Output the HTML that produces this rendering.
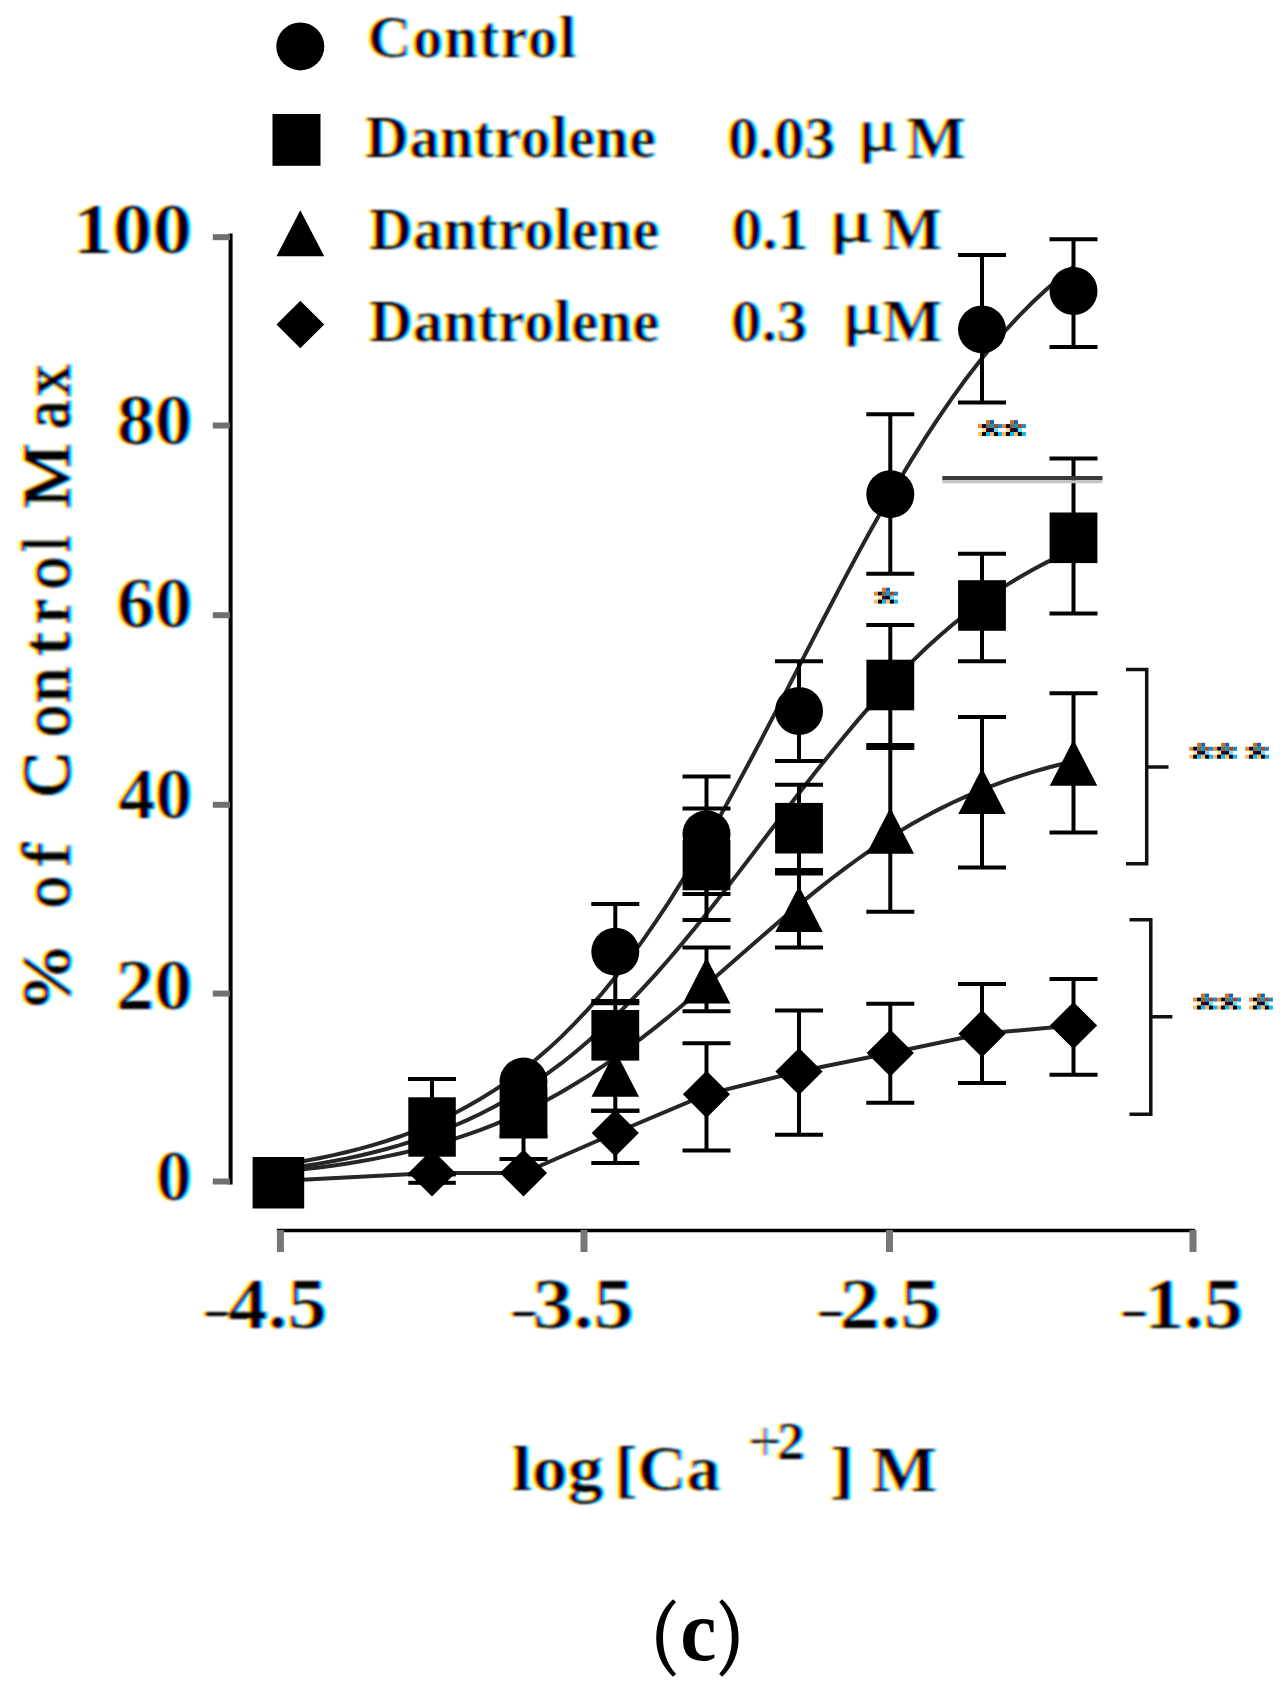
<!DOCTYPE html>
<html><head><meta charset="utf-8"><style>
html,body{margin:0;padding:0;background:#fff;}
svg{display:block;}
svg{font-family:"Liberation Serif",serif;font-weight:bold;}
</style></head><body>
<svg width="1282" height="1691" viewBox="0 0 1282 1691">
<defs><filter id="bl" x="0" y="0" width="1282" height="1691" filterUnits="userSpaceOnUse"><feGaussianBlur stdDeviation="0.8"/></filter></defs>
<rect width="1282" height="1691" fill="#fff"/>
<circle cx="300.3" cy="46.4" r="24"/>
<rect x="272.5" y="114" width="48" height="51.8"/>
<polygon points="300.3,210.2 324.2,256.2 276.5,256.2"/>
<polygon points="300.3,300.8 324.2,324.5 300.3,348.2 276.5,324.5"/>
<line x1="230.6" y1="233.6" x2="230.6" y2="1184.5" stroke="#000" stroke-width="4"/>
<g stroke="#707070" stroke-width="6"><line x1="212.8" y1="237.2" x2="230" y2="237.2"/><line x1="212.8" y1="425.5" x2="230" y2="425.5"/><line x1="212.8" y1="615.2" x2="230" y2="615.2"/><line x1="212.8" y1="804.8" x2="230" y2="804.8"/><line x1="212.8" y1="993.6" x2="230" y2="993.6"/><line x1="212.8" y1="1181.5" x2="230" y2="1181.5"/></g>
<line x1="276.9" y1="1230.5" x2="1195" y2="1230.5" stroke="#000" stroke-width="3.6"/>
<g stroke="#777" stroke-width="7"><line x1="280.4" y1="1230" x2="280.4" y2="1252"/><line x1="584" y1="1230" x2="584" y2="1252"/><line x1="889.5" y1="1230" x2="889.5" y2="1252"/><line x1="1193" y1="1230" x2="1193" y2="1252"/></g>
<path d="M278.5,1165.2 L292.0,1163.1 L305.4,1160.8 L318.9,1158.2 L332.4,1155.4 L345.9,1152.3 L359.3,1148.9 L372.8,1145.1 L386.3,1141.0 L399.8,1136.5 L413.2,1131.5 L426.7,1126.1 L440.2,1120.2 L453.7,1113.7 L467.1,1106.6 L480.6,1098.8 L494.1,1090.4 L507.6,1081.3 L521.0,1071.4 L534.5,1060.7 L548.0,1049.1 L561.5,1036.6 L574.9,1023.2 L588.4,1008.8 L601.9,993.5 L615.4,977.1 L628.8,959.6 L642.3,941.2 L655.8,921.7 L669.3,901.3 L682.7,879.9 L696.2,857.6 L709.7,834.4 L723.2,810.5 L736.6,785.9 L750.1,760.7 L763.6,735.1 L777.1,709.1 L790.5,682.9 L804.0,656.7 L817.5,630.5 L831.0,604.5 L844.4,578.8 L857.9,553.6 L871.4,529.0 L884.9,505.0 L898.3,481.7 L911.8,459.4 L925.3,437.9 L938.8,417.3 L952.2,397.8 L965.7,379.3 L979.2,361.8 L992.7,345.3 L1006.1,329.8 L1019.6,315.3 L1033.1,301.8 L1046.6,289.3 L1060.0,277.6 L1073.5,266.8" fill="none" stroke="#262626" stroke-width="4"/>
<path d="M278.5,1169.6 L292.0,1167.8 L305.4,1165.8 L318.9,1163.6 L332.4,1161.2 L345.9,1158.6 L359.3,1155.7 L372.8,1152.5 L386.3,1149.0 L399.8,1145.2 L413.2,1141.0 L426.7,1136.4 L440.2,1131.5 L453.7,1126.0 L467.1,1120.1 L480.6,1113.7 L494.1,1106.8 L507.6,1099.3 L521.0,1091.2 L534.5,1082.5 L548.0,1073.2 L561.5,1063.2 L574.9,1052.5 L588.4,1041.1 L601.9,1029.1 L615.4,1016.3 L628.8,1002.9 L642.3,988.8 L655.8,974.1 L669.3,958.7 L682.7,942.9 L696.2,926.5 L709.7,909.7 L723.2,892.5 L736.6,875.1 L750.1,857.5 L763.6,839.7 L777.1,822.0 L790.5,804.3 L804.0,786.8 L817.5,769.6 L831.0,752.7 L844.4,736.2 L857.9,720.1 L871.4,704.6 L884.9,689.7 L898.3,675.4 L911.8,661.8 L925.3,648.8 L938.8,636.6 L952.2,625.0 L965.7,614.1 L979.2,603.9 L992.7,594.3 L1006.1,585.4 L1019.6,577.2 L1033.1,569.5 L1046.6,562.4 L1060.0,555.9 L1073.5,549.8" fill="none" stroke="#262626" stroke-width="4"/>
<path d="M278.5,1172.0 L292.0,1170.6 L305.4,1169.1 L318.9,1167.5 L332.4,1165.7 L345.9,1163.7 L359.3,1161.5 L372.8,1159.1 L386.3,1156.4 L399.8,1153.5 L413.2,1150.4 L426.7,1146.9 L440.2,1143.2 L453.7,1139.1 L467.1,1134.6 L480.6,1129.8 L494.1,1124.6 L507.6,1118.9 L521.0,1112.9 L534.5,1106.3 L548.0,1099.4 L561.5,1091.9 L574.9,1084.0 L588.4,1075.6 L601.9,1066.8 L615.4,1057.5 L628.8,1047.7 L642.3,1037.6 L655.8,1027.1 L669.3,1016.2 L682.7,1005.0 L696.2,993.6 L709.7,982.0 L723.2,970.3 L736.6,958.5 L750.1,946.7 L763.6,934.9 L777.1,923.3 L790.5,911.8 L804.0,900.6 L817.5,889.6 L831.0,879.0 L844.4,868.8 L857.9,859.0 L871.4,849.5 L884.9,840.6 L898.3,832.1 L911.8,824.1 L925.3,816.5 L938.8,809.4 L952.2,802.8 L965.7,796.6 L979.2,790.9 L992.7,785.5 L1006.1,780.6 L1019.6,776.1 L1033.1,771.9 L1046.6,768.0 L1060.0,764.5 L1073.5,761.3" fill="none" stroke="#262626" stroke-width="4"/>
<path d="M278.5,1181.0 L432.0,1173.0 L523.5,1173.0 L615.3,1133.0 L706.5,1094.3 L799.0,1071.5 L890.3,1053.0 L982.0,1033.7 L1073.5,1025.5" fill="none" stroke="#262626" stroke-width="4"/>
<line x1="615.3" y1="904" x2="615.3" y2="1001" stroke="#000" stroke-width="4"/><line x1="591.3" y1="904" x2="639.3" y2="904" stroke="#000" stroke-width="4"/><line x1="591.3" y1="1001" x2="639.3" y2="1001" stroke="#000" stroke-width="4"/>
<line x1="706.5" y1="776.6" x2="706.5" y2="894" stroke="#000" stroke-width="4"/><line x1="682.5" y1="776.6" x2="730.5" y2="776.6" stroke="#000" stroke-width="4"/><line x1="682.5" y1="894" x2="730.5" y2="894" stroke="#000" stroke-width="4"/>
<line x1="799" y1="661.2" x2="799" y2="761" stroke="#000" stroke-width="4"/><line x1="775" y1="661.2" x2="823" y2="661.2" stroke="#000" stroke-width="4"/><line x1="775" y1="761" x2="823" y2="761" stroke="#000" stroke-width="4"/>
<line x1="890.3" y1="414.2" x2="890.3" y2="573.8" stroke="#000" stroke-width="4"/><line x1="866.3" y1="414.2" x2="914.3" y2="414.2" stroke="#000" stroke-width="4"/><line x1="866.3" y1="573.8" x2="914.3" y2="573.8" stroke="#000" stroke-width="4"/>
<line x1="982" y1="255.1" x2="982" y2="402.5" stroke="#000" stroke-width="4"/><line x1="958" y1="255.1" x2="1006" y2="255.1" stroke="#000" stroke-width="4"/><line x1="958" y1="402.5" x2="1006" y2="402.5" stroke="#000" stroke-width="4"/>
<line x1="1073.5" y1="239.2" x2="1073.5" y2="347" stroke="#000" stroke-width="4"/><line x1="1049.5" y1="239.2" x2="1097.5" y2="239.2" stroke="#000" stroke-width="4"/><line x1="1049.5" y1="347" x2="1097.5" y2="347" stroke="#000" stroke-width="4"/>
<line x1="615.3" y1="1003.3" x2="615.3" y2="1040" stroke="#000" stroke-width="4"/><line x1="591.3" y1="1003.3" x2="639.3" y2="1003.3" stroke="#000" stroke-width="4"/><line x1="591.3" y1="1040" x2="639.3" y2="1040" stroke="#000" stroke-width="4"/>
<line x1="706.5" y1="808.4" x2="706.5" y2="920" stroke="#000" stroke-width="4"/><line x1="682.5" y1="808.4" x2="730.5" y2="808.4" stroke="#000" stroke-width="4"/><line x1="682.5" y1="920" x2="730.5" y2="920" stroke="#000" stroke-width="4"/>
<line x1="799" y1="784.7" x2="799" y2="870" stroke="#000" stroke-width="4"/><line x1="775" y1="784.7" x2="823" y2="784.7" stroke="#000" stroke-width="4"/><line x1="775" y1="870" x2="823" y2="870" stroke="#000" stroke-width="4"/>
<line x1="890.3" y1="625.1" x2="890.3" y2="745" stroke="#000" stroke-width="4"/><line x1="866.3" y1="625.1" x2="914.3" y2="625.1" stroke="#000" stroke-width="4"/><line x1="866.3" y1="745" x2="914.3" y2="745" stroke="#000" stroke-width="4"/>
<line x1="982" y1="553.7" x2="982" y2="661.2" stroke="#000" stroke-width="4"/><line x1="958" y1="553.7" x2="1006" y2="553.7" stroke="#000" stroke-width="4"/><line x1="958" y1="661.2" x2="1006" y2="661.2" stroke="#000" stroke-width="4"/>
<line x1="1073.5" y1="458.4" x2="1073.5" y2="613.4" stroke="#000" stroke-width="4"/><line x1="1049.5" y1="458.4" x2="1097.5" y2="458.4" stroke="#000" stroke-width="4"/><line x1="1049.5" y1="613.4" x2="1097.5" y2="613.4" stroke="#000" stroke-width="4"/>
<line x1="615.3" y1="1037" x2="615.3" y2="1110.7" stroke="#000" stroke-width="4"/><line x1="591.3" y1="1037" x2="639.3" y2="1037" stroke="#000" stroke-width="4"/><line x1="591.3" y1="1110.7" x2="639.3" y2="1110.7" stroke="#000" stroke-width="4"/>
<line x1="706.5" y1="947.4" x2="706.5" y2="1011.3" stroke="#000" stroke-width="4"/><line x1="682.5" y1="947.4" x2="730.5" y2="947.4" stroke="#000" stroke-width="4"/><line x1="682.5" y1="1011.3" x2="730.5" y2="1011.3" stroke="#000" stroke-width="4"/>
<line x1="799" y1="873.5" x2="799" y2="947.5" stroke="#000" stroke-width="4"/><line x1="775" y1="873.5" x2="823" y2="873.5" stroke="#000" stroke-width="4"/><line x1="775" y1="947.5" x2="823" y2="947.5" stroke="#000" stroke-width="4"/>
<line x1="890.3" y1="748" x2="890.3" y2="911.8" stroke="#000" stroke-width="4"/><line x1="866.3" y1="748" x2="914.3" y2="748" stroke="#000" stroke-width="4"/><line x1="866.3" y1="911.8" x2="914.3" y2="911.8" stroke="#000" stroke-width="4"/>
<line x1="982" y1="716.9" x2="982" y2="867.6" stroke="#000" stroke-width="4"/><line x1="958" y1="716.9" x2="1006" y2="716.9" stroke="#000" stroke-width="4"/><line x1="958" y1="867.6" x2="1006" y2="867.6" stroke="#000" stroke-width="4"/>
<line x1="1073.5" y1="693.2" x2="1073.5" y2="832.5" stroke="#000" stroke-width="4"/><line x1="1049.5" y1="693.2" x2="1097.5" y2="693.2" stroke="#000" stroke-width="4"/><line x1="1049.5" y1="832.5" x2="1097.5" y2="832.5" stroke="#000" stroke-width="4"/>
<line x1="523.5" y1="1136.6" x2="523.5" y2="1159" stroke="#000" stroke-width="4"/><line x1="499.5" y1="1136.6" x2="547.5" y2="1136.6" stroke="#000" stroke-width="4"/><line x1="499.5" y1="1159" x2="547.5" y2="1159" stroke="#000" stroke-width="4"/>
<line x1="615.3" y1="1110.7" x2="615.3" y2="1163" stroke="#000" stroke-width="4"/><line x1="591.3" y1="1110.7" x2="639.3" y2="1110.7" stroke="#000" stroke-width="4"/><line x1="591.3" y1="1163" x2="639.3" y2="1163" stroke="#000" stroke-width="4"/>
<line x1="706.5" y1="1043.2" x2="706.5" y2="1150.6" stroke="#000" stroke-width="4"/><line x1="682.5" y1="1043.2" x2="730.5" y2="1043.2" stroke="#000" stroke-width="4"/><line x1="682.5" y1="1150.6" x2="730.5" y2="1150.6" stroke="#000" stroke-width="4"/>
<line x1="799" y1="1010.5" x2="799" y2="1134.7" stroke="#000" stroke-width="4"/><line x1="775" y1="1010.5" x2="823" y2="1010.5" stroke="#000" stroke-width="4"/><line x1="775" y1="1134.7" x2="823" y2="1134.7" stroke="#000" stroke-width="4"/>
<line x1="890.3" y1="1003.7" x2="890.3" y2="1102.8" stroke="#000" stroke-width="4"/><line x1="866.3" y1="1003.7" x2="914.3" y2="1003.7" stroke="#000" stroke-width="4"/><line x1="866.3" y1="1102.8" x2="914.3" y2="1102.8" stroke="#000" stroke-width="4"/>
<line x1="982" y1="984" x2="982" y2="1082.9" stroke="#000" stroke-width="4"/><line x1="958" y1="984" x2="1006" y2="984" stroke="#000" stroke-width="4"/><line x1="958" y1="1082.9" x2="1006" y2="1082.9" stroke="#000" stroke-width="4"/>
<line x1="1073.5" y1="979.1" x2="1073.5" y2="1074.7" stroke="#000" stroke-width="4"/><line x1="1049.5" y1="979.1" x2="1097.5" y2="979.1" stroke="#000" stroke-width="4"/><line x1="1049.5" y1="1074.7" x2="1097.5" y2="1074.7" stroke="#000" stroke-width="4"/>
<line x1="432" y1="1079" x2="432" y2="1100" stroke="#000" stroke-width="4"/><line x1="408" y1="1079" x2="456" y2="1079" stroke="#000" stroke-width="4"/>
<rect x="408.3" y="1172.4" width="47.5" height="4"/><rect x="408.3" y="1180.8" width="47.5" height="4"/>
<polygon points="523.5,1149.4 547.1,1173 523.5,1196.6 499.9,1173"/>
<polygon points="615.3,1109.4 638.9,1133 615.3,1156.6 591.6999999999999,1133"/>
<polygon points="706.5,1070.7 730.1,1094.3 706.5,1117.8999999999999 682.9,1094.3"/>
<polygon points="799,1047.9 822.6,1071.5 799,1095.1 775.4,1071.5"/>
<polygon points="890.3,1029.4 913.9,1053 890.3,1076.6 866.6999999999999,1053"/>
<polygon points="982,1010.1 1005.6,1033.7 982,1057.3 958.4,1033.7"/>
<polygon points="1073.5,1001.9 1097.1,1025.5 1073.5,1049.1 1049.9,1025.5"/>
<polygon points="432,1149.4 455.6,1173 432,1196.6 408.4,1173"/>
<polygon points="523.5,1090.6 547.25,1136.6 499.75,1136.6"/>
<polygon points="615.3,1050.8 639.05,1096.8 591.55,1096.8"/>
<polygon points="706.5,957.6 730.25,1003.6 682.75,1003.6"/>
<polygon points="799,886.0 822.75,932.0 775.25,932.0"/>
<polygon points="890.3,807.8 914.05,853.8 866.55,853.8"/>
<polygon points="982,768.0 1005.75,814.0 958.25,814.0"/>
<polygon points="1073.5,739.8 1097.25,785.8 1049.75,785.8"/>
<circle cx="523.5" cy="1081.6" r="24"/>
<circle cx="615.3" cy="951.7" r="24"/>
<circle cx="706.5" cy="834.3" r="24"/>
<circle cx="799" cy="711" r="24"/>
<circle cx="890.3" cy="494.2" r="24"/>
<circle cx="982" cy="329.4" r="24"/>
<circle cx="1073.5" cy="291" r="24"/>
<rect x="499.60" y="1086.30" width="47.8" height="50.6"/>
<rect x="591.40" y="1010.00" width="47.8" height="50.6"/>
<rect x="682.60" y="839.70" width="47.8" height="50.6"/>
<rect x="775.10" y="802.90" width="47.8" height="50.6"/>
<rect x="866.40" y="659.70" width="47.8" height="50.6"/>
<rect x="958.10" y="580.20" width="47.8" height="50.6"/>
<rect x="1049.60" y="512.50" width="47.8" height="50.6"/>
<rect x="408.3" y="1097.3" width="47.5" height="59.4"/>
<rect x="252.6" y="1157" width="51.6" height="51.5"/>
<line x1="942.3" y1="478.1" x2="1102.5" y2="478.1" stroke="#3a3a3a" stroke-width="4.2"/><line x1="942.3" y1="481.7" x2="1102.5" y2="481.7" stroke="#c4c4c4" stroke-width="3"/>
<path d="M1126,669.5 H1146.7 V863.7 H1126 M1146.7,767 H1168.5" fill="none" stroke="#111" stroke-width="3.5"/>
<path d="M1129.5,919.8 H1150.8 V1114.2 H1129.5 M1150.8,1016.7 H1172.4" fill="none" stroke="#111" stroke-width="3.5"/>
<rect x="986.04" y="420.10" width="4.02" height="4.02" fill="#d87010"/><rect x="990.01" y="420.10" width="4.02" height="4.02" fill="#1060c8"/><rect x="978.10" y="424.07" width="4.02" height="4.02" fill="#f08820"/><rect x="982.07" y="424.07" width="4.02" height="4.02" fill="#000040"/><rect x="986.04" y="424.07" width="4.02" height="4.02" fill="#707040"/><rect x="990.01" y="424.07" width="4.02" height="4.02" fill="#1098c0"/><rect x="993.98" y="424.07" width="4.02" height="4.02" fill="#b84000"/><rect x="997.95" y="424.07" width="4.02" height="4.02" fill="#1088e0"/><rect x="982.07" y="428.04" width="4.02" height="4.02" fill="#ffe090"/><rect x="986.04" y="428.04" width="4.02" height="4.02" fill="#400000"/><rect x="990.01" y="428.04" width="4.02" height="4.02" fill="#000040"/><rect x="993.98" y="428.04" width="4.02" height="4.02" fill="#60e0ff"/><rect x="978.10" y="432.01" width="4.02" height="4.02" fill="#ffb860"/><rect x="982.07" y="432.01" width="4.02" height="4.02" fill="#000000"/><rect x="986.04" y="432.01" width="4.02" height="4.02" fill="#00b8ff"/><rect x="990.01" y="432.01" width="4.02" height="4.02" fill="#ffb860"/><rect x="993.98" y="432.01" width="4.02" height="4.02" fill="#000000"/><rect x="997.95" y="432.01" width="4.02" height="4.02" fill="#00b8ff"/><rect x="1009.94" y="420.10" width="4.02" height="4.02" fill="#d87010"/><rect x="1013.91" y="420.10" width="4.02" height="4.02" fill="#1060c8"/><rect x="1002.00" y="424.07" width="4.02" height="4.02" fill="#f08820"/><rect x="1005.97" y="424.07" width="4.02" height="4.02" fill="#000040"/><rect x="1009.94" y="424.07" width="4.02" height="4.02" fill="#707040"/><rect x="1013.91" y="424.07" width="4.02" height="4.02" fill="#1098c0"/><rect x="1017.88" y="424.07" width="4.02" height="4.02" fill="#b84000"/><rect x="1021.85" y="424.07" width="4.02" height="4.02" fill="#1088e0"/><rect x="1005.97" y="428.04" width="4.02" height="4.02" fill="#ffe090"/><rect x="1009.94" y="428.04" width="4.02" height="4.02" fill="#400000"/><rect x="1013.91" y="428.04" width="4.02" height="4.02" fill="#000040"/><rect x="1017.88" y="428.04" width="4.02" height="4.02" fill="#60e0ff"/><rect x="1002.00" y="432.01" width="4.02" height="4.02" fill="#ffb860"/><rect x="1005.97" y="432.01" width="4.02" height="4.02" fill="#000000"/><rect x="1009.94" y="432.01" width="4.02" height="4.02" fill="#00b8ff"/><rect x="1013.91" y="432.01" width="4.02" height="4.02" fill="#ffb860"/><rect x="1017.88" y="432.01" width="4.02" height="4.02" fill="#000000"/><rect x="1021.85" y="432.01" width="4.02" height="4.02" fill="#00b8ff"/><rect x="882.04" y="587.70" width="4.02" height="4.02" fill="#d87010"/><rect x="886.01" y="587.70" width="4.02" height="4.02" fill="#1060c8"/><rect x="874.10" y="591.67" width="4.02" height="4.02" fill="#f08820"/><rect x="878.07" y="591.67" width="4.02" height="4.02" fill="#000040"/><rect x="882.04" y="591.67" width="4.02" height="4.02" fill="#707040"/><rect x="886.01" y="591.67" width="4.02" height="4.02" fill="#1098c0"/><rect x="889.98" y="591.67" width="4.02" height="4.02" fill="#b84000"/><rect x="893.95" y="591.67" width="4.02" height="4.02" fill="#1088e0"/><rect x="878.07" y="595.64" width="4.02" height="4.02" fill="#ffe090"/><rect x="882.04" y="595.64" width="4.02" height="4.02" fill="#400000"/><rect x="886.01" y="595.64" width="4.02" height="4.02" fill="#000040"/><rect x="889.98" y="595.64" width="4.02" height="4.02" fill="#60e0ff"/><rect x="874.10" y="599.61" width="4.02" height="4.02" fill="#ffb860"/><rect x="878.07" y="599.61" width="4.02" height="4.02" fill="#000000"/><rect x="882.04" y="599.61" width="4.02" height="4.02" fill="#00b8ff"/><rect x="886.01" y="599.61" width="4.02" height="4.02" fill="#ffb860"/><rect x="889.98" y="599.61" width="4.02" height="4.02" fill="#000000"/><rect x="893.95" y="599.61" width="4.02" height="4.02" fill="#00b8ff"/><rect x="1197.14" y="742.80" width="4.02" height="4.02" fill="#d87010"/><rect x="1201.11" y="742.80" width="4.02" height="4.02" fill="#1060c8"/><rect x="1189.20" y="746.77" width="4.02" height="4.02" fill="#f08820"/><rect x="1193.17" y="746.77" width="4.02" height="4.02" fill="#000040"/><rect x="1197.14" y="746.77" width="4.02" height="4.02" fill="#707040"/><rect x="1201.11" y="746.77" width="4.02" height="4.02" fill="#1098c0"/><rect x="1205.08" y="746.77" width="4.02" height="4.02" fill="#b84000"/><rect x="1209.05" y="746.77" width="4.02" height="4.02" fill="#1088e0"/><rect x="1193.17" y="750.74" width="4.02" height="4.02" fill="#ffe090"/><rect x="1197.14" y="750.74" width="4.02" height="4.02" fill="#400000"/><rect x="1201.11" y="750.74" width="4.02" height="4.02" fill="#000040"/><rect x="1205.08" y="750.74" width="4.02" height="4.02" fill="#60e0ff"/><rect x="1189.20" y="754.71" width="4.02" height="4.02" fill="#ffb860"/><rect x="1193.17" y="754.71" width="4.02" height="4.02" fill="#000000"/><rect x="1197.14" y="754.71" width="4.02" height="4.02" fill="#00b8ff"/><rect x="1201.11" y="754.71" width="4.02" height="4.02" fill="#ffb860"/><rect x="1205.08" y="754.71" width="4.02" height="4.02" fill="#000000"/><rect x="1209.05" y="754.71" width="4.02" height="4.02" fill="#00b8ff"/><rect x="1221.14" y="742.80" width="4.02" height="4.02" fill="#d87010"/><rect x="1225.11" y="742.80" width="4.02" height="4.02" fill="#1060c8"/><rect x="1213.20" y="746.77" width="4.02" height="4.02" fill="#f08820"/><rect x="1217.17" y="746.77" width="4.02" height="4.02" fill="#000040"/><rect x="1221.14" y="746.77" width="4.02" height="4.02" fill="#707040"/><rect x="1225.11" y="746.77" width="4.02" height="4.02" fill="#1098c0"/><rect x="1229.08" y="746.77" width="4.02" height="4.02" fill="#b84000"/><rect x="1233.05" y="746.77" width="4.02" height="4.02" fill="#1088e0"/><rect x="1217.17" y="750.74" width="4.02" height="4.02" fill="#ffe090"/><rect x="1221.14" y="750.74" width="4.02" height="4.02" fill="#400000"/><rect x="1225.11" y="750.74" width="4.02" height="4.02" fill="#000040"/><rect x="1229.08" y="750.74" width="4.02" height="4.02" fill="#60e0ff"/><rect x="1213.20" y="754.71" width="4.02" height="4.02" fill="#ffb860"/><rect x="1217.17" y="754.71" width="4.02" height="4.02" fill="#000000"/><rect x="1221.14" y="754.71" width="4.02" height="4.02" fill="#00b8ff"/><rect x="1225.11" y="754.71" width="4.02" height="4.02" fill="#ffb860"/><rect x="1229.08" y="754.71" width="4.02" height="4.02" fill="#000000"/><rect x="1233.05" y="754.71" width="4.02" height="4.02" fill="#00b8ff"/><rect x="1253.04" y="742.80" width="4.02" height="4.02" fill="#d87010"/><rect x="1257.01" y="742.80" width="4.02" height="4.02" fill="#1060c8"/><rect x="1245.10" y="746.77" width="4.02" height="4.02" fill="#f08820"/><rect x="1249.07" y="746.77" width="4.02" height="4.02" fill="#000040"/><rect x="1253.04" y="746.77" width="4.02" height="4.02" fill="#707040"/><rect x="1257.01" y="746.77" width="4.02" height="4.02" fill="#1098c0"/><rect x="1260.98" y="746.77" width="4.02" height="4.02" fill="#b84000"/><rect x="1264.95" y="746.77" width="4.02" height="4.02" fill="#1088e0"/><rect x="1249.07" y="750.74" width="4.02" height="4.02" fill="#ffe090"/><rect x="1253.04" y="750.74" width="4.02" height="4.02" fill="#400000"/><rect x="1257.01" y="750.74" width="4.02" height="4.02" fill="#000040"/><rect x="1260.98" y="750.74" width="4.02" height="4.02" fill="#60e0ff"/><rect x="1245.10" y="754.71" width="4.02" height="4.02" fill="#ffb860"/><rect x="1249.07" y="754.71" width="4.02" height="4.02" fill="#000000"/><rect x="1253.04" y="754.71" width="4.02" height="4.02" fill="#00b8ff"/><rect x="1257.01" y="754.71" width="4.02" height="4.02" fill="#ffb860"/><rect x="1260.98" y="754.71" width="4.02" height="4.02" fill="#000000"/><rect x="1264.95" y="754.71" width="4.02" height="4.02" fill="#00b8ff"/><rect x="1201.04" y="993.60" width="4.02" height="4.02" fill="#d87010"/><rect x="1205.01" y="993.60" width="4.02" height="4.02" fill="#1060c8"/><rect x="1193.10" y="997.57" width="4.02" height="4.02" fill="#f08820"/><rect x="1197.07" y="997.57" width="4.02" height="4.02" fill="#000040"/><rect x="1201.04" y="997.57" width="4.02" height="4.02" fill="#707040"/><rect x="1205.01" y="997.57" width="4.02" height="4.02" fill="#1098c0"/><rect x="1208.98" y="997.57" width="4.02" height="4.02" fill="#b84000"/><rect x="1212.95" y="997.57" width="4.02" height="4.02" fill="#1088e0"/><rect x="1197.07" y="1001.54" width="4.02" height="4.02" fill="#ffe090"/><rect x="1201.04" y="1001.54" width="4.02" height="4.02" fill="#400000"/><rect x="1205.01" y="1001.54" width="4.02" height="4.02" fill="#000040"/><rect x="1208.98" y="1001.54" width="4.02" height="4.02" fill="#60e0ff"/><rect x="1193.10" y="1005.51" width="4.02" height="4.02" fill="#ffb860"/><rect x="1197.07" y="1005.51" width="4.02" height="4.02" fill="#000000"/><rect x="1201.04" y="1005.51" width="4.02" height="4.02" fill="#00b8ff"/><rect x="1205.01" y="1005.51" width="4.02" height="4.02" fill="#ffb860"/><rect x="1208.98" y="1005.51" width="4.02" height="4.02" fill="#000000"/><rect x="1212.95" y="1005.51" width="4.02" height="4.02" fill="#00b8ff"/><rect x="1225.04" y="993.60" width="4.02" height="4.02" fill="#d87010"/><rect x="1229.01" y="993.60" width="4.02" height="4.02" fill="#1060c8"/><rect x="1217.10" y="997.57" width="4.02" height="4.02" fill="#f08820"/><rect x="1221.07" y="997.57" width="4.02" height="4.02" fill="#000040"/><rect x="1225.04" y="997.57" width="4.02" height="4.02" fill="#707040"/><rect x="1229.01" y="997.57" width="4.02" height="4.02" fill="#1098c0"/><rect x="1232.98" y="997.57" width="4.02" height="4.02" fill="#b84000"/><rect x="1236.95" y="997.57" width="4.02" height="4.02" fill="#1088e0"/><rect x="1221.07" y="1001.54" width="4.02" height="4.02" fill="#ffe090"/><rect x="1225.04" y="1001.54" width="4.02" height="4.02" fill="#400000"/><rect x="1229.01" y="1001.54" width="4.02" height="4.02" fill="#000040"/><rect x="1232.98" y="1001.54" width="4.02" height="4.02" fill="#60e0ff"/><rect x="1217.10" y="1005.51" width="4.02" height="4.02" fill="#ffb860"/><rect x="1221.07" y="1005.51" width="4.02" height="4.02" fill="#000000"/><rect x="1225.04" y="1005.51" width="4.02" height="4.02" fill="#00b8ff"/><rect x="1229.01" y="1005.51" width="4.02" height="4.02" fill="#ffb860"/><rect x="1232.98" y="1005.51" width="4.02" height="4.02" fill="#000000"/><rect x="1236.95" y="1005.51" width="4.02" height="4.02" fill="#00b8ff"/><rect x="1256.94" y="993.60" width="4.02" height="4.02" fill="#d87010"/><rect x="1260.91" y="993.60" width="4.02" height="4.02" fill="#1060c8"/><rect x="1249.00" y="997.57" width="4.02" height="4.02" fill="#f08820"/><rect x="1252.97" y="997.57" width="4.02" height="4.02" fill="#000040"/><rect x="1256.94" y="997.57" width="4.02" height="4.02" fill="#707040"/><rect x="1260.91" y="997.57" width="4.02" height="4.02" fill="#1098c0"/><rect x="1264.88" y="997.57" width="4.02" height="4.02" fill="#b84000"/><rect x="1268.85" y="997.57" width="4.02" height="4.02" fill="#1088e0"/><rect x="1252.97" y="1001.54" width="4.02" height="4.02" fill="#ffe090"/><rect x="1256.94" y="1001.54" width="4.02" height="4.02" fill="#400000"/><rect x="1260.91" y="1001.54" width="4.02" height="4.02" fill="#000040"/><rect x="1264.88" y="1001.54" width="4.02" height="4.02" fill="#60e0ff"/><rect x="1249.00" y="1005.51" width="4.02" height="4.02" fill="#ffb860"/><rect x="1252.97" y="1005.51" width="4.02" height="4.02" fill="#000000"/><rect x="1256.94" y="1005.51" width="4.02" height="4.02" fill="#00b8ff"/><rect x="1260.91" y="1005.51" width="4.02" height="4.02" fill="#ffb860"/><rect x="1264.88" y="1005.51" width="4.02" height="4.02" fill="#000000"/><rect x="1268.85" y="1005.51" width="4.02" height="4.02" fill="#00b8ff"/>
<g filter="url(#bl)" style="isolation:isolate"><g fill="#0ff" stroke="#0ff" stroke-width="0" transform="translate(2.0,0)" style="mix-blend-mode:multiply"><rect x="204.8" y="1312" width="23.5" height="4"/>
<rect x="512" y="1312" width="23.5" height="4"/>
<rect x="818.7" y="1312" width="23.5" height="4"/>
<rect x="1122" y="1312" width="23.5" height="4"/>
<rect x="750.6" y="1439.6" width="27.9" height="3.4"/>
<rect x="763.6" y="1427.8" width="2.6" height="27.3"/>
<text x="367.50" y="57.2" font-size="60" textLength="208.24" lengthAdjust="spacing">Control</text><text x="365.30" y="157.3" font-size="60" textLength="290.31" lengthAdjust="spacing">Dantrolene</text><text x="369.00" y="248.7" font-size="60" textLength="289.98" lengthAdjust="spacing">Dantrolene</text><text x="369.00" y="340.5" font-size="60" textLength="289.98" lengthAdjust="spacing">Dantrolene</text><text x="727.45" y="157.5" font-size="60" textLength="107.60" lengthAdjust="spacingAndGlyphs">0.03</text><text x="731.46" y="248.8" font-size="60" textLength="76.61" lengthAdjust="spacingAndGlyphs">0.1</text><text x="730.97" y="340.5" font-size="60" textLength="76.06" lengthAdjust="spacingAndGlyphs">0.3</text><text x="857.40" y="149.8" font-size="60" font-weight="normal" stroke-width="1.2" textLength="40.21" lengthAdjust="spacingAndGlyphs">μ</text><text x="828.92" y="241.2" font-size="60" font-weight="normal" stroke-width="1.2" textLength="44.05" lengthAdjust="spacingAndGlyphs">μ</text><text x="841.92" y="332.6" font-size="60" font-weight="normal" stroke-width="1.2" textLength="40.83" lengthAdjust="spacingAndGlyphs">μ</text><text x="906.46" y="157.5" font-size="60" textLength="58.74" lengthAdjust="spacingAndGlyphs">M</text><text x="882.45" y="248.6" font-size="60" textLength="59.26" lengthAdjust="spacingAndGlyphs">M</text><text x="882.45" y="340.5" font-size="60" textLength="59.26" lengthAdjust="spacingAndGlyphs">M</text><text x="72.80" y="252.8" font-size="71" textLength="119.00" lengthAdjust="spacingAndGlyphs">100</text><text x="116.88" y="443.7" font-size="71" textLength="75.30" lengthAdjust="spacingAndGlyphs">80</text><text x="116.88" y="626.9" font-size="71" textLength="75.30" lengthAdjust="spacingAndGlyphs">60</text><text x="117.96" y="818.0" font-size="71" textLength="74.18" lengthAdjust="spacingAndGlyphs">40</text><text x="115.77" y="1009.2" font-size="71" textLength="76.46" lengthAdjust="spacingAndGlyphs">20</text><text x="156.00" y="1199.8" font-size="71">0</text><text x="227.78" y="1327.6" font-size="71" textLength="99.19" lengthAdjust="spacingAndGlyphs">4.5</text><text x="532.58" y="1327.6" font-size="71" textLength="101.05" lengthAdjust="spacingAndGlyphs">3.5</text><text x="839.37" y="1327.6" font-size="71" textLength="101.58" lengthAdjust="spacingAndGlyphs">2.5</text><text x="1144.33" y="1327.6" font-size="71" textLength="98.73" lengthAdjust="spacingAndGlyphs">1.5</text><text x="511.87" y="1490.3" font-size="63" textLength="91.22" lengthAdjust="spacingAndGlyphs">log</text><text x="614.62" y="1490.3" font-size="63" textLength="105.44" lengthAdjust="spacingAndGlyphs">[Ca</text><text x="776.89" y="1458.9" font-size="53" textLength="27.95" lengthAdjust="spacingAndGlyphs">2</text><text x="829.64" y="1490.5" font-size="63" textLength="24.73" lengthAdjust="spacingAndGlyphs">]</text><text x="871.40" y="1491" font-size="63" textLength="65.21" lengthAdjust="spacingAndGlyphs">M</text><g transform="translate(69,0) rotate(-90)" font-size="68" font-weight="normal" stroke-width="2.2"><text x="-1006.63" y="0" textLength="58.54" lengthAdjust="spacingAndGlyphs">%</text><text x="-907.73" y="0" textLength="31.17" lengthAdjust="spacingAndGlyphs">o</text><text x="-867.04" y="0" textLength="23.64" lengthAdjust="spacingAndGlyphs">f</text><text x="-796.64" y="0" textLength="43.92" lengthAdjust="spacingAndGlyphs">C</text><text x="-736.43" y="0" textLength="31.05" lengthAdjust="spacingAndGlyphs">o</text><text x="-702.50" y="0" textLength="35.00" lengthAdjust="spacingAndGlyphs">n</text><text x="-654.70" y="0" textLength="21.93" lengthAdjust="spacingAndGlyphs">t</text><text x="-623.00" y="0" textLength="22.75" lengthAdjust="spacingAndGlyphs">r</text><text x="-588.97" y="0" textLength="31.85" lengthAdjust="spacingAndGlyphs">o</text><text x="-551.20" y="0" textLength="14.93" lengthAdjust="spacingAndGlyphs">l</text><text x="-508.26" y="0" textLength="64.36" lengthAdjust="spacingAndGlyphs">M</text><text x="-428.73" y="0" textLength="28.00" lengthAdjust="spacingAndGlyphs">a</text><text x="-396.10" y="0" textLength="31.20" lengthAdjust="spacingAndGlyphs">x</text></g></g><g fill="#f0f" stroke="#f0f" stroke-width="0" style="mix-blend-mode:multiply"><rect x="204.8" y="1312" width="23.5" height="4"/>
<rect x="512" y="1312" width="23.5" height="4"/>
<rect x="818.7" y="1312" width="23.5" height="4"/>
<rect x="1122" y="1312" width="23.5" height="4"/>
<rect x="750.6" y="1439.6" width="27.9" height="3.4"/>
<rect x="763.6" y="1427.8" width="2.6" height="27.3"/>
<text x="367.50" y="57.2" font-size="60" textLength="208.24" lengthAdjust="spacing">Control</text><text x="365.30" y="157.3" font-size="60" textLength="290.31" lengthAdjust="spacing">Dantrolene</text><text x="369.00" y="248.7" font-size="60" textLength="289.98" lengthAdjust="spacing">Dantrolene</text><text x="369.00" y="340.5" font-size="60" textLength="289.98" lengthAdjust="spacing">Dantrolene</text><text x="727.45" y="157.5" font-size="60" textLength="107.60" lengthAdjust="spacingAndGlyphs">0.03</text><text x="731.46" y="248.8" font-size="60" textLength="76.61" lengthAdjust="spacingAndGlyphs">0.1</text><text x="730.97" y="340.5" font-size="60" textLength="76.06" lengthAdjust="spacingAndGlyphs">0.3</text><text x="857.40" y="149.8" font-size="60" font-weight="normal" stroke-width="1.2" textLength="40.21" lengthAdjust="spacingAndGlyphs">μ</text><text x="828.92" y="241.2" font-size="60" font-weight="normal" stroke-width="1.2" textLength="44.05" lengthAdjust="spacingAndGlyphs">μ</text><text x="841.92" y="332.6" font-size="60" font-weight="normal" stroke-width="1.2" textLength="40.83" lengthAdjust="spacingAndGlyphs">μ</text><text x="906.46" y="157.5" font-size="60" textLength="58.74" lengthAdjust="spacingAndGlyphs">M</text><text x="882.45" y="248.6" font-size="60" textLength="59.26" lengthAdjust="spacingAndGlyphs">M</text><text x="882.45" y="340.5" font-size="60" textLength="59.26" lengthAdjust="spacingAndGlyphs">M</text><text x="72.80" y="252.8" font-size="71" textLength="119.00" lengthAdjust="spacingAndGlyphs">100</text><text x="116.88" y="443.7" font-size="71" textLength="75.30" lengthAdjust="spacingAndGlyphs">80</text><text x="116.88" y="626.9" font-size="71" textLength="75.30" lengthAdjust="spacingAndGlyphs">60</text><text x="117.96" y="818.0" font-size="71" textLength="74.18" lengthAdjust="spacingAndGlyphs">40</text><text x="115.77" y="1009.2" font-size="71" textLength="76.46" lengthAdjust="spacingAndGlyphs">20</text><text x="156.00" y="1199.8" font-size="71">0</text><text x="227.78" y="1327.6" font-size="71" textLength="99.19" lengthAdjust="spacingAndGlyphs">4.5</text><text x="532.58" y="1327.6" font-size="71" textLength="101.05" lengthAdjust="spacingAndGlyphs">3.5</text><text x="839.37" y="1327.6" font-size="71" textLength="101.58" lengthAdjust="spacingAndGlyphs">2.5</text><text x="1144.33" y="1327.6" font-size="71" textLength="98.73" lengthAdjust="spacingAndGlyphs">1.5</text><text x="511.87" y="1490.3" font-size="63" textLength="91.22" lengthAdjust="spacingAndGlyphs">log</text><text x="614.62" y="1490.3" font-size="63" textLength="105.44" lengthAdjust="spacingAndGlyphs">[Ca</text><text x="776.89" y="1458.9" font-size="53" textLength="27.95" lengthAdjust="spacingAndGlyphs">2</text><text x="829.64" y="1490.5" font-size="63" textLength="24.73" lengthAdjust="spacingAndGlyphs">]</text><text x="871.40" y="1491" font-size="63" textLength="65.21" lengthAdjust="spacingAndGlyphs">M</text><g transform="translate(69,0) rotate(-90)" font-size="68" font-weight="normal" stroke-width="2.2"><text x="-1006.63" y="0" textLength="58.54" lengthAdjust="spacingAndGlyphs">%</text><text x="-907.73" y="0" textLength="31.17" lengthAdjust="spacingAndGlyphs">o</text><text x="-867.04" y="0" textLength="23.64" lengthAdjust="spacingAndGlyphs">f</text><text x="-796.64" y="0" textLength="43.92" lengthAdjust="spacingAndGlyphs">C</text><text x="-736.43" y="0" textLength="31.05" lengthAdjust="spacingAndGlyphs">o</text><text x="-702.50" y="0" textLength="35.00" lengthAdjust="spacingAndGlyphs">n</text><text x="-654.70" y="0" textLength="21.93" lengthAdjust="spacingAndGlyphs">t</text><text x="-623.00" y="0" textLength="22.75" lengthAdjust="spacingAndGlyphs">r</text><text x="-588.97" y="0" textLength="31.85" lengthAdjust="spacingAndGlyphs">o</text><text x="-551.20" y="0" textLength="14.93" lengthAdjust="spacingAndGlyphs">l</text><text x="-508.26" y="0" textLength="64.36" lengthAdjust="spacingAndGlyphs">M</text><text x="-428.73" y="0" textLength="28.00" lengthAdjust="spacingAndGlyphs">a</text><text x="-396.10" y="0" textLength="31.20" lengthAdjust="spacingAndGlyphs">x</text></g></g><g fill="#ff0" stroke="#ff0" stroke-width="0" transform="translate(-2.0,0)" style="mix-blend-mode:multiply"><rect x="204.8" y="1312" width="23.5" height="4"/>
<rect x="512" y="1312" width="23.5" height="4"/>
<rect x="818.7" y="1312" width="23.5" height="4"/>
<rect x="1122" y="1312" width="23.5" height="4"/>
<rect x="750.6" y="1439.6" width="27.9" height="3.4"/>
<rect x="763.6" y="1427.8" width="2.6" height="27.3"/>
<text x="367.50" y="57.2" font-size="60" textLength="208.24" lengthAdjust="spacing">Control</text><text x="365.30" y="157.3" font-size="60" textLength="290.31" lengthAdjust="spacing">Dantrolene</text><text x="369.00" y="248.7" font-size="60" textLength="289.98" lengthAdjust="spacing">Dantrolene</text><text x="369.00" y="340.5" font-size="60" textLength="289.98" lengthAdjust="spacing">Dantrolene</text><text x="727.45" y="157.5" font-size="60" textLength="107.60" lengthAdjust="spacingAndGlyphs">0.03</text><text x="731.46" y="248.8" font-size="60" textLength="76.61" lengthAdjust="spacingAndGlyphs">0.1</text><text x="730.97" y="340.5" font-size="60" textLength="76.06" lengthAdjust="spacingAndGlyphs">0.3</text><text x="857.40" y="149.8" font-size="60" font-weight="normal" stroke-width="1.2" textLength="40.21" lengthAdjust="spacingAndGlyphs">μ</text><text x="828.92" y="241.2" font-size="60" font-weight="normal" stroke-width="1.2" textLength="44.05" lengthAdjust="spacingAndGlyphs">μ</text><text x="841.92" y="332.6" font-size="60" font-weight="normal" stroke-width="1.2" textLength="40.83" lengthAdjust="spacingAndGlyphs">μ</text><text x="906.46" y="157.5" font-size="60" textLength="58.74" lengthAdjust="spacingAndGlyphs">M</text><text x="882.45" y="248.6" font-size="60" textLength="59.26" lengthAdjust="spacingAndGlyphs">M</text><text x="882.45" y="340.5" font-size="60" textLength="59.26" lengthAdjust="spacingAndGlyphs">M</text><text x="72.80" y="252.8" font-size="71" textLength="119.00" lengthAdjust="spacingAndGlyphs">100</text><text x="116.88" y="443.7" font-size="71" textLength="75.30" lengthAdjust="spacingAndGlyphs">80</text><text x="116.88" y="626.9" font-size="71" textLength="75.30" lengthAdjust="spacingAndGlyphs">60</text><text x="117.96" y="818.0" font-size="71" textLength="74.18" lengthAdjust="spacingAndGlyphs">40</text><text x="115.77" y="1009.2" font-size="71" textLength="76.46" lengthAdjust="spacingAndGlyphs">20</text><text x="156.00" y="1199.8" font-size="71">0</text><text x="227.78" y="1327.6" font-size="71" textLength="99.19" lengthAdjust="spacingAndGlyphs">4.5</text><text x="532.58" y="1327.6" font-size="71" textLength="101.05" lengthAdjust="spacingAndGlyphs">3.5</text><text x="839.37" y="1327.6" font-size="71" textLength="101.58" lengthAdjust="spacingAndGlyphs">2.5</text><text x="1144.33" y="1327.6" font-size="71" textLength="98.73" lengthAdjust="spacingAndGlyphs">1.5</text><text x="511.87" y="1490.3" font-size="63" textLength="91.22" lengthAdjust="spacingAndGlyphs">log</text><text x="614.62" y="1490.3" font-size="63" textLength="105.44" lengthAdjust="spacingAndGlyphs">[Ca</text><text x="776.89" y="1458.9" font-size="53" textLength="27.95" lengthAdjust="spacingAndGlyphs">2</text><text x="829.64" y="1490.5" font-size="63" textLength="24.73" lengthAdjust="spacingAndGlyphs">]</text><text x="871.40" y="1491" font-size="63" textLength="65.21" lengthAdjust="spacingAndGlyphs">M</text><g transform="translate(69,0) rotate(-90)" font-size="68" font-weight="normal" stroke-width="2.2"><text x="-1006.63" y="0" textLength="58.54" lengthAdjust="spacingAndGlyphs">%</text><text x="-907.73" y="0" textLength="31.17" lengthAdjust="spacingAndGlyphs">o</text><text x="-867.04" y="0" textLength="23.64" lengthAdjust="spacingAndGlyphs">f</text><text x="-796.64" y="0" textLength="43.92" lengthAdjust="spacingAndGlyphs">C</text><text x="-736.43" y="0" textLength="31.05" lengthAdjust="spacingAndGlyphs">o</text><text x="-702.50" y="0" textLength="35.00" lengthAdjust="spacingAndGlyphs">n</text><text x="-654.70" y="0" textLength="21.93" lengthAdjust="spacingAndGlyphs">t</text><text x="-623.00" y="0" textLength="22.75" lengthAdjust="spacingAndGlyphs">r</text><text x="-588.97" y="0" textLength="31.85" lengthAdjust="spacingAndGlyphs">o</text><text x="-551.20" y="0" textLength="14.93" lengthAdjust="spacingAndGlyphs">l</text><text x="-508.26" y="0" textLength="64.36" lengthAdjust="spacingAndGlyphs">M</text><text x="-428.73" y="0" textLength="28.00" lengthAdjust="spacingAndGlyphs">a</text><text x="-396.10" y="0" textLength="31.20" lengthAdjust="spacingAndGlyphs">x</text></g></g></g>
<text x="680.19" y="1659.5" font-size="87" textLength="36.17" lengthAdjust="spacingAndGlyphs">c</text>
<path d="M673,1599.3 Q656.2,1615 656.2,1638 Q656.2,1661 673,1676.7 L676,1674 Q663,1660 663,1638 Q663,1616 676,1602 Z"/>
<path d="M722.2,1599.3 Q738.6,1615 738.6,1638 Q738.6,1661 722.2,1676.7 L719.2,1674 Q731.8,1660 731.8,1638 Q731.8,1616 719.2,1602 Z"/>
</svg>
</body></html>
